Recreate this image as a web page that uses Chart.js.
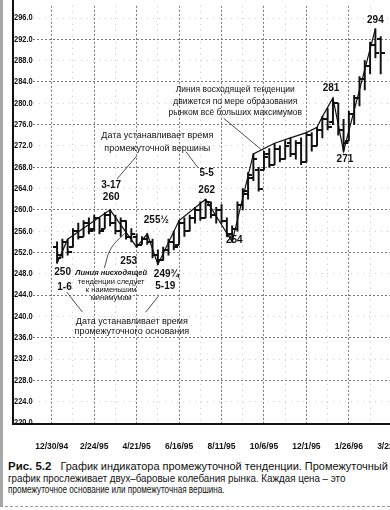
<!DOCTYPE html>
<html><head><meta charset="utf-8">
<script src="https://cdn.jsdelivr.net/npm/chart.js@4.4.0/dist/chart.umd.min.js"></script>
<style>
html,body{margin:0;padding:0;background:#fff;}
body{width:390px;height:510px;overflow:hidden;position:relative;font-family:'Liberation Sans',Arial,sans-serif;color:#111;}
#wrap{position:absolute;left:0;top:0;width:420px;height:450px;}
#frame{position:absolute;left:0;top:0;width:3px;height:506px;background:#a8a8a8;}
#bline{position:absolute;left:0;top:506px;width:390px;height:0;border-top:1px dashed #999;}
.cap{position:absolute;left:8px;white-space:nowrap;transform-origin:0 50%;display:inline-block;line-height:12px;}
#c1{top:460px;font-size:11px;}
#c2{top:472px;font-size:10.5px;}
#c3{top:484px;font-size:10px;}
#c1 b{font-size:11.5px;}
</style></head>
<body>
<div id="wrap"><canvas id="chart" width="420" height="450"></canvas></div>
<div id="frame"></div>
<div id="bline"></div>
<div class="cap" id="c1" data-w="380"><b>Рис. 5.2</b>&nbsp;&nbsp; График индикатора промежуточной тенденции. Промежуточный</div>
<div class="cap" id="c2" data-w="337">график прослеживает двух–баровые колебания рынка. Каждая цена – это</div>
<div class="cap" id="c3" data-w="217">промежуточное основание или промежуточная вершина.</div>
<script>
// ---- data (weekly bars, week 0 = 12/30/94) ----
const weeks  = [1,2,3,4,5,6,7,8,9,10,11,12,13,14,15,16,17,18,19,20,21,22,23,24,25,26,27,28,29,30,31,32,33,34,35,36,37,38,39,40,41,42,43,44,45,46,47,48,49,50,51,52,53,54,55,56,57,58,59,60,61,62];
const highs  = [254,254.5,254.5,256.5,257.5,258,258.5,259,258.5,259.5,260,259,258.5,258,256.5,255.5,255,255.5,254.5,252.5,253,254.5,256,258,258.5,259,260.5,261.5,262,261.5,260.5,261,258.5,257,261.5,264,267,270.5,268,271,271.5,272.5,272,273,273.5,273,273.5,274.5,274.5,275.5,277.5,279,281,280,277,278.5,281.5,285,288,291.5,294,292.5];
const lows   = [250,251,251.5,253,254.5,255,255.5,256,255.5,256.5,257,255.5,255,254.5,254,253,253.5,253.5,251,249.75,250.5,251.5,252.5,253.5,255,256,257.5,258,258.5,258.5,257.5,257.5,255,254,256,260,262,265.5,263.5,267.5,268,268.5,269,269.5,270,269.5,268.5,269,271,272,273.5,275,276,274,271,273,276,279.5,282.5,285.5,288.5,285.5];
const opens  = [253,251.5,254,253,256,255,257.5,256.5,258.5,256.5,259,257.5,256,258,255,255,253.5,254.5,254,251.5,250.5,252.5,254,253.5,257.5,256,258.5,260,258.5,261,259,260,258,255.5,256.5,261,263,266,267.5,267.5,270.5,268.5,271.5,269.5,272.5,270.5,272.5,269,274,272,275,277,276.5,280,275,273,278,281,284.5,287,291,292];
const closes = [251,254,252,256,255,257.5,256,258.5,256,259,257.5,256,258,255,255.5,253.5,254.5,254,251.5,250.5,252.5,254,253,257.5,256,258.5,260,258.5,261.5,259,260,258,255.5,256.5,261,263.5,266.5,269.5,264,270,268.5,271.5,269.5,272,270.5,272.5,269,274,272,275,277,275.5,280,275,272.5,278,281,284.5,287,291,289.5,289.5];
const swingWeeks  = [1,3,11,16,18,20,24,29,34,38,42,45,48,50,51,53,55,61];
const swingValues = [250,254.5,260,253,255.5,249.75,258,262,254,270.5,272.5,273.5,274.5,275.5,277.5,281,271,294];
const xTickWeeks  = [0,8,16,24,32,40,48,56,64];
const xTickLabels = ['12/30/94','2/24/95','4/21/95','6/16/95','8/11/95','10/6/95','12/1/95','1/26/96','3/22/96'];
const yTickValues = [220,224,228,232,236,240,244,248,252,256,260,264,268,272,276,280,284,288,292,296];

// ---- annotations (anchored in data units) ----
const numFont = 'bold 10px "Liberation Sans", Arial, sans-serif';
const noteFont = '8.5px "Liberation Sans", Arial, sans-serif';
const dateFont = '9px "Liberation Sans", Arial, sans-serif';
const smallFont = '7.5px "Liberation Sans", Arial, sans-serif';
const notes = [
  {t:'294', w:61.0, v:295.6, f:numFont},
  {t:'281', w:52.65, v:282.9, f:numFont},
  {t:'271', w:55.26, v:269.5, f:numFont},
  {t:'262', w:29.2, v:263.7, f:numFont},
  {t:'5-5', w:29.2, v:266.9, f:numFont},
  {t:'254', w:34.4, v:254.3, f:numFont},
  {t:'255½', w:19.7, v:258.1, f:numFont},
  {t:'249¾', w:21.6, v:248.0, f:numFont},
  {t:'5-19', w:21.4, v:245.7, f:numFont},
  {t:'253', w:14.5, v:250.4, f:numFont},
  {t:'260', w:11.2, v:262.4, f:numFont},
  {t:'3-17', w:11.2, v:264.7, f:numFont},
  {t:'250', w:2.05, v:248.3, f:numFont},
  {t:'1-6', w:2.4, v:245.5, f:numFont},
  {t:'Линия восходящей тенденции', w:34.6, v:282.5, f:noteFont},
  {t:'движется по мере образования', w:34.6, v:280.3, f:noteFont},
  {t:'рынком всё больших максимумов', w:34.6, v:278.2, f:noteFont},
  {t:'Дата устанавливает время', w:19.9, v:274.0, f:dateFont},
  {t:'промежуточной вершины', w:19.9, v:271.6, f:dateFont},
  {t:'Дата устанавливает время', w:15.1, v:239.1, f:dateFont},
  {t:'промежуточного основания', w:15.1, v:237.1, f:dateFont},
  {t:'Линия нисходящей', w:11.2, v:248.1, f:'italic bold 7.5px "Liberation Sans", Arial, sans-serif'},
  {t:'тенденции следует', w:11.2, v:246.5, f:smallFont},
  {t:'к наименьшим', w:11.2, v:245.0, f:smallFont},
  {t:'минимумам', w:11.2, v:243.5, f:smallFont}
];
const pointerSegments = [
  [{x:2.8,y:244.6},{x:5.8,y:240.8}],
  [{x:20.1,y:243.8},{x:17.7,y:240.8}],
  [{x:12.3,y:265.8},{x:16.0,y:270.1}],
  [{x:25.3,y:270.9},{x:27.5,y:268.0}],
  [{x:32.4,y:277.2},{x:39.5,y:271.3}]
];
const curvedPointer = [{x:9.9,y:249.1},{x:11.2,y:252.8},{x:14.0,y:255.8}];

function tickImg(side){
  const c=document.createElement('canvas'); c.width=8; c.height=2;
  const g=c.getContext('2d'); g.fillStyle='#111';
  g.fillRect(side<0?0:4,0,4,2); return c;
}
const leftTick=tickImg(-1), rightTick=tickImg(1);

const decor = {
  id:'decor',
  afterDraw(chart){
    const {ctx, chartArea:a, scales:{x,y}} = chart;
    ctx.save();
    ctx.strokeStyle='#111'; ctx.lineWidth=2;
    ctx.beginPath();
    ctx.moveTo(y.left+1, 0); ctx.lineTo(y.left+1, a.bottom+1);
    ctx.lineTo(a.right, a.bottom+1);
    ctx.stroke();
    ctx.fillStyle='#111';
    // y tick labels, condensed, right of the left axis line
    ctx.textAlign='left'; ctx.textBaseline='middle';
    ctx.font='bold 8.5px "Liberation Sans", Arial, sans-serif';
    yTickValues.forEach(v=>{
      ctx.save(); ctx.translate(y.left+2, y.getPixelForValue(v)); ctx.scale(0.88,1);
      ctx.fillText(v.toFixed(1),0,0); ctx.restore();
    });
    ctx.textAlign='center';
    notes.forEach(n=>{ ctx.font=n.f; ctx.fillText(n.t, x.getPixelForValue(n.w), y.getPixelForValue(n.v)); });
    ctx.restore();
  }
};

const datasets = [
  {type:'bar', data:weeks.map((w,i)=>({x:w,y:[lows[i],highs[i]]})), backgroundColor:'#111', barThickness:1.3, borderWidth:0, order:3},
  {type:'line', showLine:false, data:weeks.map((w,i)=>({x:w,y:opens[i]})), pointStyle:leftTick, pointRadius:3, order:2},
  {type:'line', showLine:false, data:weeks.map((w,i)=>({x:w,y:closes[i]})), pointStyle:rightTick, pointRadius:3, order:2},
  {type:'line', data:swingWeeks.map((w,i)=>({x:w,y:swingValues[i]})), borderColor:'#111', borderWidth:1.2, pointRadius:0, tension:0, order:1},
  {type:'line', data:curvedPointer, borderColor:'#222', borderWidth:0.8, pointRadius:0, tension:0.45, order:1}
];
pointerSegments.forEach(seg=>datasets.push({type:'line', data:seg, borderColor:'#222', borderWidth:0.8, pointRadius:0, order:1}));

new Chart(document.getElementById('chart'), {
  type:'line',
  data:{datasets},
  options:{
    responsive:false, animation:false, events:[],
    layout:{padding:{left:12,top:5.8,right:0,bottom:0}},
    plugins:{legend:{display:false}, tooltip:{enabled:false}},
    scales:{
      x:{type:'linear', offset:false, min:(33-52)/5.375, max:(420-52)/5.375,
        afterBuildTicks:s=>{ const t=[]; for(let w=0; w<=68; w+=4) t.push({value:w}); s.ticks=t; },
        afterFit:s=>{ s.height=27; },
        ticks:{autoSkip:false, maxRotation:0, padding:2, color:'#111',
          font:{family:'"Liberation Sans", Arial, sans-serif', size:8.5, weight:'bold'},
          callback:v=>{ const i=xTickWeeks.indexOf(v); return i>=0?xTickLabels[i]:''; }},
        grid:{offset:false, drawTicks:true, tickLength:17, tickColor:'rgba(0,0,0,0)',
          color:c=>(c.tick && c.tick.value%8===0)?'#777':'#c4c4c4', lineWidth:1},
        border:{display:false, dash:c=>(c.tick && c.tick.value%8===0)?[2,2]:[1,5]}
      },
      y:{type:'linear', min:220, max:298.3,
        afterBuildTicks:s=>{ s.ticks=yTickValues.map(v=>({value:v})); },
        afterFit:s=>{ s.width=21; },
        ticks:{display:false},
        grid:{drawTicks:false, color:c=>(c.tick && (c.tick.value-220)%8===0)?'#777':'#cfcfcf', lineWidth:1},
        border:{display:false, dash:c=>(c.tick && (c.tick.value-220)%8===0)?[2,2]:[1,5]}
      }
    }
  },
  plugins:[decor]
});

document.querySelectorAll('.cap').forEach(el=>{
  const target=+el.dataset.w, w=el.offsetWidth;
  if(w>0) el.style.transform='scaleX('+(target/w)+')';
});
</script>
</body></html>
